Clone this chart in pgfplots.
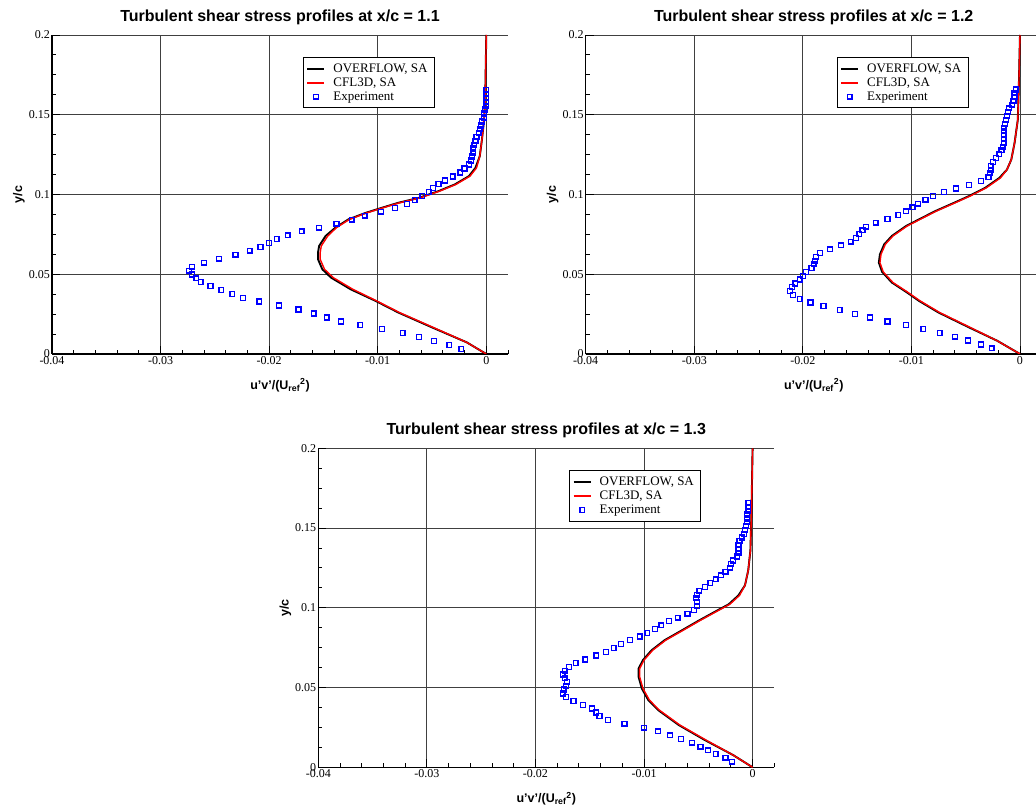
\documentclass[border=0pt]{standalone}
\usepackage{pgfplots}
\usepackage{pgfplotstable}
\pgfplotsset{compat=1.18}
\usepackage{fontspec}
\setmainfont{Liberation Serif}
\newfontfamily\arial{Liberation Sans}

% ---------- x/c = 1.1 ----------
\pgfplotstableread{
x y
0 0
-0.0018 0.0073
-0.0049 0.0167
-0.0080 0.0260
-0.0101 0.0333
-0.0123 0.0406
-0.0141 0.0479
-0.0149 0.0531
-0.0153 0.0594
-0.0153 0.0635
-0.0152 0.0677
-0.0146 0.0740
-0.0138 0.0792
-0.0126 0.0844
-0.0110 0.0885
-0.0095 0.0917
-0.0080 0.0948
-0.0061 0.0979
-0.0043 0.1021
-0.0028 0.1063
-0.0015 0.1115
-0.0009 0.1167
-0.0006 0.1240
-0.0004 0.1344
-0.0002 0.1469
-0.0001 0.1594
-0.00005 0.1802
0 0.2
}\cflA
\pgfplotstableread{
x y
0 0
-0.0018 0.0073
-0.0050 0.0167
-0.0081 0.0260
-0.0102 0.0333
-0.0125 0.0406
-0.0143 0.0479
-0.0151 0.0531
-0.0155 0.0594
-0.0155 0.0635
-0.0154 0.0677
-0.0148 0.0740
-0.0139 0.0792
-0.0127 0.0844
-0.0111 0.0885
-0.0096 0.0917
-0.0081 0.0948
-0.0062 0.0979
-0.0044 0.1021
-0.0029 0.1063
-0.0016 0.1115
-0.0010 0.1167
-0.0006 0.1240
-0.0004 0.1344
-0.0002 0.1469
-0.0001 0.1594
-0.00005 0.1802
0 0.2
}\ovfA
\pgfplotstableread{
x y
-0.0023 0.0031
-0.0034 0.0056
-0.0048 0.0081
-0.0062 0.0106
-0.0077 0.0131
-0.0096 0.0156
-0.0116 0.0181
-0.0134 0.0204
-0.0147 0.0229
-0.0159 0.0254
-0.0173 0.0279
-0.0191 0.0304
-0.0209 0.0329
-0.0224 0.0352
-0.0234 0.0375
-0.0244 0.0400
-0.0254 0.0425
-0.0263 0.0450
-0.0267 0.0475
-0.0271 0.0498
-0.0274 0.0523
-0.0271 0.0548
-0.0260 0.0573
-0.0246 0.0598
-0.0231 0.0623
-0.0218 0.0648
-0.0208 0.0671
-0.0200 0.0696
-0.0193 0.0721
-0.0183 0.0744
-0.0170 0.0769
-0.0154 0.0792
-0.0138 0.0817
-0.0124 0.0842
-0.0112 0.0867
-0.0097 0.0892
-0.0084 0.0915
-0.0073 0.0940
-0.0066 0.0965
-0.0059 0.0990
-0.0053 0.1015
-0.0049 0.1040
-0.0044 0.1065
-0.0038 0.1088
-0.0031 0.1113
-0.0024 0.1138
-0.0020 0.1163
-0.0016 0.1188
-0.0014 0.1213
-0.0013 0.1238
-0.0012 0.1263
-0.0012 0.1288
-0.0011 0.1310
-0.0010 0.1335
-0.0009 0.1360
-0.0007 0.1385
-0.0006 0.1410
-0.0005 0.1433
-0.0004 0.1458
-0.0002 0.1483
-0.0002 0.1508
-0.0001 0.1533
0.0000 0.1556
0.0000 0.1580
0.0000 0.1606
0.0000 0.1630
0.0000 0.1656
}\expA

% ---------- x/c = 1.2 ----------
\pgfplotstableread{
x y
0 0
-0.0021 0.0083
-0.0046 0.0167
-0.0074 0.0260
-0.0092 0.0333
-0.0104 0.0390
-0.0117 0.0448
-0.0126 0.0515
-0.0129 0.0573
-0.0128 0.0625
-0.0124 0.0688
-0.0117 0.0740
-0.0104 0.0802
-0.0092 0.0844
-0.0077 0.0896
-0.0061 0.0944
-0.0046 0.0990
-0.0031 0.1042
-0.0018 0.1104
-0.0012 0.1156
-0.0008 0.1219
-0.0005 0.1323
-0.0002 0.1469
-0.0001 0.1698
0 0.2
}\cflB
\pgfplotstableread{
x y
0 0
-0.0021 0.0083
-0.0047 0.0167
-0.0075 0.0260
-0.0093 0.0333
-0.0105 0.0390
-0.0118 0.0448
-0.0127 0.0515
-0.0130 0.0573
-0.0129 0.0625
-0.0125 0.0688
-0.0118 0.0740
-0.0105 0.0802
-0.0093 0.0844
-0.0078 0.0896
-0.0062 0.0944
-0.0047 0.0990
-0.0032 0.1042
-0.0019 0.1104
-0.0012 0.1156
-0.0008 0.1219
-0.0005 0.1323
-0.0002 0.1469
-0.0001 0.1698
0 0.2
}\ovfB
\pgfplotstableread{
x y
-0.0026 0.0035
-0.0036 0.0060
-0.0048 0.0085
-0.0060 0.0108
-0.0074 0.0133
-0.0089 0.0156
-0.0105 0.0181
-0.0122 0.0204
-0.0138 0.0229
-0.0152 0.0252
-0.0166 0.0277
-0.0181 0.0300
-0.0193 0.0323
-0.0203 0.0346
-0.0209 0.0371
-0.0212 0.0394
-0.0210 0.0419
-0.0207 0.0442
-0.0203 0.0467
-0.0200 0.0490
-0.0197 0.0515
-0.0192 0.0538
-0.0190 0.0563
-0.0189 0.0585
-0.0188 0.0610
-0.0184 0.0633
-0.0175 0.0656
-0.0165 0.0681
-0.0156 0.0704
-0.0151 0.0727
-0.0148 0.0752
-0.0145 0.0775
-0.0142 0.0798
-0.0133 0.0823
-0.0122 0.0846
-0.0112 0.0871
-0.0105 0.0894
-0.0099 0.0919
-0.0094 0.0942
-0.0087 0.0967
-0.0080 0.0990
-0.0070 0.1015
-0.0059 0.1038
-0.0047 0.1060
-0.0036 0.1085
-0.0029 0.1108
-0.0028 0.1133
-0.0027 0.1156
-0.0027 0.1181
-0.0025 0.1204
-0.0022 0.1229
-0.0019 0.1252
-0.0017 0.1277
-0.0016 0.1300
-0.0015 0.1325
-0.0015 0.1348
-0.0015 0.1373
-0.0015 0.1396
-0.0015 0.1419
-0.0014 0.1444
-0.0013 0.1467
-0.0012 0.1492
-0.0011 0.1515
-0.0010 0.1540
-0.0007 0.1563
-0.0006 0.1588
-0.0005 0.1610
-0.0005 0.1635
-0.0004 0.1658
}\expB

% ---------- x/c = 1.3 ----------
\pgfplotstableread{
x y
0 0
-0.0018 0.0077
-0.0043 0.0171
-0.0067 0.0265
-0.0086 0.0359
-0.0095 0.0421
-0.0101 0.0494
-0.0104 0.0567
-0.0104 0.0619
-0.0100 0.0672
-0.0092 0.0734
-0.0080 0.0797
-0.0064 0.0859
-0.0049 0.0918
-0.0034 0.0974
-0.0021 0.1022
-0.0012 0.1078
-0.0007 0.1141
-0.0004 0.1235
-0.0002 0.1360
-0.0001 0.1610
0 0.2
}\cflC
\pgfplotstableread{
x y
0 0
-0.0018 0.0077
-0.0044 0.0171
-0.0068 0.0265
-0.0087 0.0359
-0.0096 0.0421
-0.0102 0.0494
-0.0105 0.0567
-0.0105 0.0619
-0.0101 0.0672
-0.0093 0.0734
-0.0081 0.0797
-0.0065 0.0859
-0.0050 0.0918
-0.0035 0.0974
-0.0022 0.1022
-0.0013 0.1078
-0.0007 0.1141
-0.0004 0.1235
-0.0002 0.1360
-0.0001 0.1610
0 0.2
}\ovfC
\pgfplotstableread{
x y
-0.0019 0.0035
-0.0025 0.0060
-0.0034 0.0083
-0.0041 0.0106
-0.0048 0.0129
-0.0056 0.0154
-0.0066 0.0177
-0.0076 0.0200
-0.0087 0.0225
-0.0100 0.0248
-0.0118 0.0273
-0.0133 0.0296
-0.0141 0.0321
-0.0144 0.0344
-0.0148 0.0369
-0.0156 0.0392
-0.0165 0.0415
-0.0172 0.0440
-0.0175 0.0463
-0.0174 0.0488
-0.0172 0.0511
-0.0171 0.0534
-0.0173 0.0559
-0.0175 0.0582
-0.0173 0.0605
-0.0169 0.0630
-0.0163 0.0653
-0.0154 0.0676
-0.0144 0.0701
-0.0135 0.0724
-0.0128 0.0749
-0.0121 0.0772
-0.0113 0.0797
-0.0104 0.0820
-0.0097 0.0843
-0.0090 0.0868
-0.0084 0.0890
-0.0077 0.0916
-0.0069 0.0938
-0.0060 0.0963
-0.0054 0.0986
-0.0051 0.1011
-0.0051 0.1034
-0.0052 0.1059
-0.0051 0.1082
-0.0049 0.1107
-0.0044 0.1130
-0.0039 0.1155
-0.0034 0.1178
-0.0029 0.1203
-0.0025 0.1226
-0.0021 0.1251
-0.0020 0.1274
-0.0018 0.1297
-0.0014 0.1322
-0.0013 0.1345
-0.0013 0.1370
-0.0013 0.1393
-0.0012 0.1418
-0.0010 0.1441
-0.0008 0.1464
-0.0007 0.1489
-0.0006 0.1512
-0.0005 0.1537
-0.0005 0.1560
-0.0005 0.1585
-0.0004 0.1608
-0.0004 0.1633
-0.0004 0.1656
}\expC

\pgfplotsset{
  panel/.style={
    scale only axis, width=456pt, height=319pt,
    xmin=-0.04, xmax=0.002, ymin=0, ymax=0.2,
    scaled x ticks=false, scaled y ticks=false,
    axis x line*=bottom, axis y line*=left,
    axis line style={line width=1.5pt, black},
    xtick={-0.04,-0.03,-0.02,-0.01,0},
    xticklabels={-0.04,-0.03,-0.02,-0.01,0},
    ytick={0,0.05,0.1,0.15,0.2},
    yticklabels={0,0.05,0.1,0.15,0.2},
    minor xtick={-0.038,-0.036,-0.034,-0.032,-0.028,-0.026,-0.024,-0.022,-0.018,-0.016,-0.014,-0.012,-0.008,-0.006,-0.004,-0.002,0.002},
    minor ytick={0.0125,0.025,0.0375,0.0625,0.075,0.0875,0.1125,0.125,0.1375,0.1625,0.175,0.1875},
    tick align=inside,
    major tick length=8pt, minor tick length=4pt,
    every tick/.style={black, line width=0.9pt},
    grid=major,
    major grid style={black!75, line width=0.9pt},
    ticklabel style={font=\fontsize{12}{14}\selectfont},
    xticklabel style={inner sep=2pt},
    yticklabel style={inner sep=2pt},
    title style={font=\arial\bfseries\fontsize{16}{18}\selectfont,
      at={(axis description cs:0.5,1.023)}, anchor=base},
    xlabel style={font=\arial\bfseries\fontsize{12.5}{14}\selectfont,
      at={(axis description cs:0.5,-0.11)}, anchor=base},
    ylabel style={font=\arial\bfseries\fontsize{12.5}{14}\selectfont,
      at={(axis description cs:-0.0724,0.5)}, anchor=center},
    xlabel={u’v’/(U\textsubscript{ref}\textsuperscript{2})},
    ylabel={y/c},
    legend style={at={(axis description cs:0.5504,0.931)}, anchor=north west,
      draw=black, line width=0.9pt, fill=white,
      font=\fontsize{13}{16}\selectfont, inner xsep=3pt, inner ysep=4pt,
      row sep=0pt, column sep=4pt,
      nodes={inner xsep=4pt}},
    legend cell align=left,
  },
  ovf/.style={color=black, line width=1.9pt, no marks,
    legend image code/.code={\draw[black, line width=2pt] (0pt,0pt) -- (17pt,0pt);}},
  cfl/.style={color=red, line width=1.4pt, no marks,
    legend image code/.code={\draw[red, line width=1.8pt] (0pt,0pt) -- (17pt,0pt);}},
  expm/.style={color=blue, only marks, mark=square, mark size=2.4pt,
    mark options={solid, draw=blue, line width=1.35pt},
    legend image code/.code={\draw[blue, line width=1.35pt] (6.1pt,-2.4pt) rectangle (10.9pt,2.4pt);}},
}

\begin{document}
\begin{tikzpicture}
\path[use as bounding box] (0pt,0pt) rectangle (1036pt,809pt);

\begin{axis}[panel, at={(318.3pt,41.7pt)}, anchor=south west,
  title={Turbulent shear stress profiles at x/c = 1.3}]
  \addplot[ovf] table[x=x,y=y] {\ovfC};
  \addlegendentry{OVERFLOW, SA}
  \addplot[cfl] table[x=x,y=y] {\cflC};
  \addlegendentry{CFL3D, SA}
  \addplot[expm] table[x=x,y=y] {\expC};
  \addlegendentry{Experiment}
\end{axis}

\begin{axis}[panel, at={(52pt,455pt)}, anchor=south west,
  title={Turbulent shear stress profiles at x/c = 1.1}]
  \addplot[ovf] table[x=x,y=y] {\ovfA};
  \addlegendentry{OVERFLOW, SA}
  \addplot[cfl] table[x=x,y=y] {\cflA};
  \addlegendentry{CFL3D, SA}
  \addplot[expm] table[x=x,y=y] {\expA};
  \addlegendentry{Experiment}
\end{axis}

\begin{axis}[panel, at={(585.7pt,455pt)}, anchor=south west,
  title={Turbulent shear stress profiles at x/c = 1.2}]
  \addplot[ovf] table[x=x,y=y] {\ovfB};
  \addlegendentry{OVERFLOW, SA}
  \addplot[cfl] table[x=x,y=y] {\cflB};
  \addlegendentry{CFL3D, SA}
  \addplot[expm] table[x=x,y=y] {\expB};
  \addlegendentry{Experiment}
\end{axis}
\end{tikzpicture}
\end{document}
